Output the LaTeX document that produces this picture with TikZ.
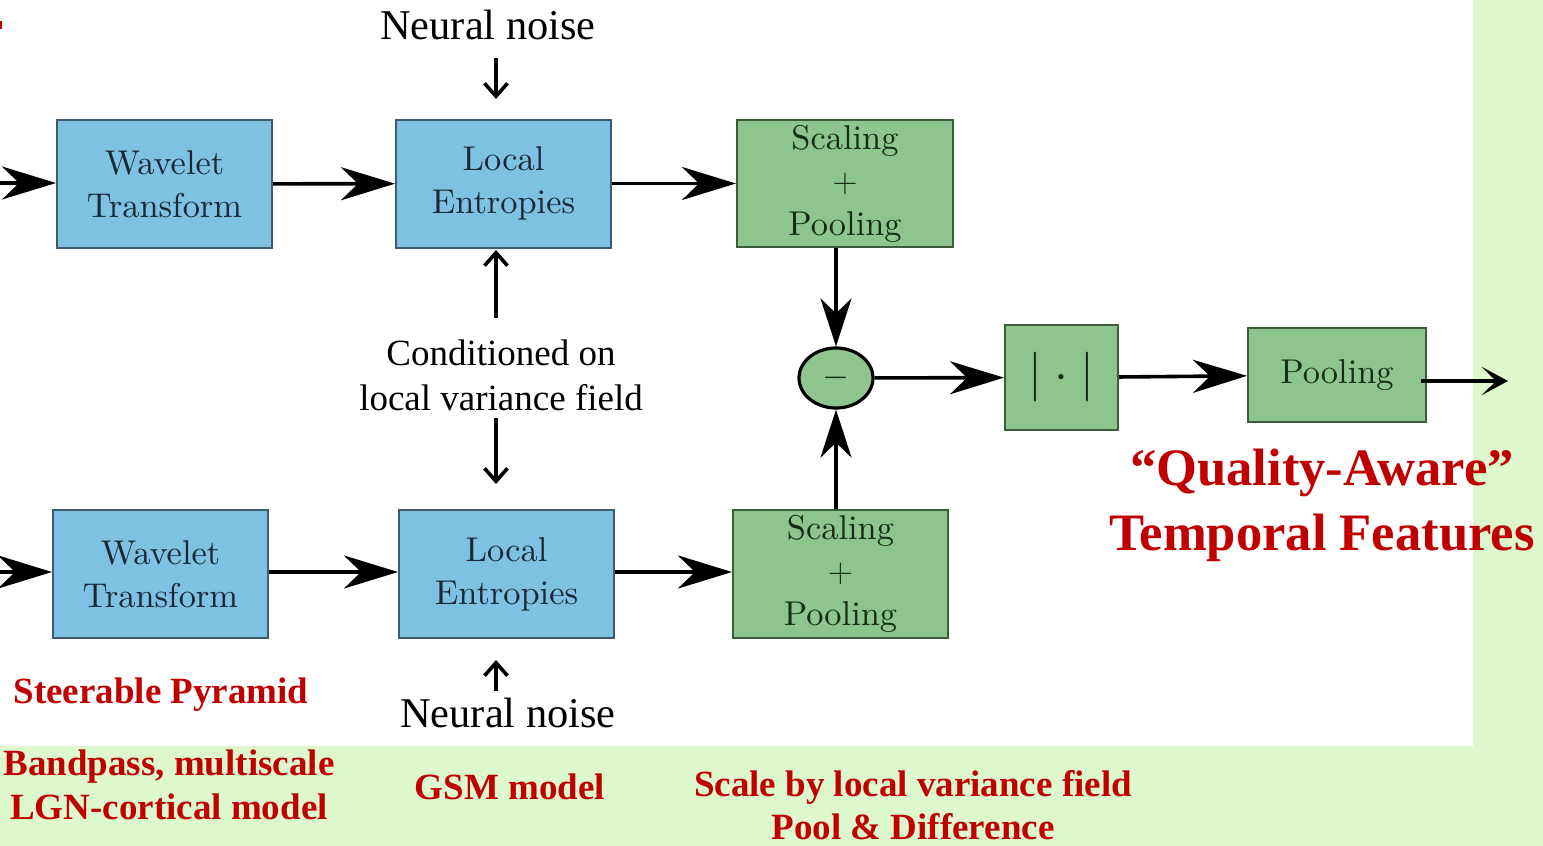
\documentclass[tikz,border=0pt]{standalone}
\usepackage{fontspec}
\newfontfamily\tnr{Liberation Serif}
\newfontfamily\lmten{lmroman10-regular.otf}
\usetikzlibrary{arrows.meta,shapes.geometric}
\definecolor{boxblue}{RGB}{126,193,226}
\definecolor{edgeblue}{RGB}{62,92,110}
\definecolor{boxgreen}{RGB}{142,196,142}
\definecolor{edgegreen}{RGB}{60,92,60}
\definecolor{bggreen}{RGB}{220,248,204}
\definecolor{labred}{RGB}{192,0,0}
\definecolor{inkblue}{RGB}{24,40,52}
\definecolor{inkgreen}{RGB}{22,44,22}
\tikzset{
  blk/.style={draw, line width=1pt, minimum width=107.5pt, minimum height=64pt,
    align=center, inner sep=0pt, font=\lmten\fontsize{17.2}{21.5}\selectfont},
  bluebox/.style={blk, fill=boxblue, draw=edgeblue, text=inkblue},
  greenbox/.style={blk, fill=boxgreen, draw=edgegreen, text=inkgreen},
  bigarrow/.style={line width=1.8pt, -{Stealth[length=27pt,width=16.5pt,inset=8.5pt]}},
  vbigarrow/.style={line width=1.8pt, -{Stealth[length=24pt,width=15.5pt,inset=7.5pt]}},
  thinarrow/.style={line width=1.8pt, -{Straight Barb[length=6.5pt,width=11.5pt,line width=1.8pt]}},
  blacklabel/.style={font=\tnr\fontsize{21.2}{26}\selectfont, align=center, inner sep=0pt},
  condlabel/.style={font=\tnr\fontsize{18.5}{22.5}\selectfont, align=center, inner sep=0pt},
  redlabel/.style={font=\tnr\bfseries\fontsize{18.5}{22}\selectfont, text=labred, align=center, inner sep=0pt},
  biglabel/.style={font=\tnr\bfseries\fontsize{26.3}{32.5}\selectfont, text=labred, align=center, inner sep=0pt}
}
\begin{document}
\begin{tikzpicture}[x=0.5pt, y=-0.5pt]
  % page background: light green frame around a white drawing area
  \useasboundingbox (0,0) rectangle (1543,846);
  \clip (0,0) rectangle (1543,846);
  \fill[bggreen] (0,0) rectangle (1543,846);
  \fill[white] (0,0) rectangle (1473,746);
  \fill[labred] (0,21) rectangle (2,29);

  % upper pathway
  \node[bluebox] (wt1) at (164.5,184) {Wavelet\\Transform};
  \node[bluebox] (le1) at (503.5,183.5) {Local\\Entropies};
  \node[greenbox, minimum width=108pt, minimum height=63.5pt] (sp1) at (845,183.5) {Scaling\\$+$\\Pooling};

  % lower pathway
  \node[bluebox] (wt2) at (160.5,574) {Wavelet\\Transform};
  \node[bluebox] (le2) at (506.5,574) {Local\\Entropies};
  \node[greenbox, minimum width=107.5pt] (sp2) at (840.5,574) {Scaling\\$+$\\Pooling};

  % difference, magnitude and pooling
  \node[ellipse, draw=black, line width=1.6pt, fill=boxgreen, minimum width=37pt,
        minimum height=30pt, inner sep=0pt, text=inkgreen,
        font=\fontsize{19}{19}\selectfont] (minus) at (836,378) {$-$};
  \node[greenbox, minimum width=56.5pt, minimum height=52.5pt,
        font=\fontsize{25.5}{25.5}\selectfont] (abs) at (1061.5,377.5)
        {$|\mkern4.5mu{\cdot}\mkern4.5mu|$};
  \node[greenbox, minimum width=89pt, minimum height=47pt] (pool) at (1337,375) {Pooling};

  % labels
  \node[blacklabel] (noise1) at (488,25) {Neural noise};
  \node[blacklabel] (noise2) at (508,713) {Neural noise};
  \node[condlabel] (cond) at (501,375) {Conditioned on\\local variance field};

  \node[redlabel] (steer) at (161,695) {Steerable Pyramid};
  \node[redlabel] (band) at (169,785) {Bandpass, multiscale\\LGN-cortical model};
  \node[redlabel] (gsm) at (510,787) {GSM model};
  \node[redlabel, font=\tnr\bfseries\fontsize{18.5}{21.5}\selectfont] (scale) at (913,805.5)
        {Scale by local variance field\\Pool \& Difference};
  \node[biglabel] (qaware) at (1322,505) {“Quality-Aware”\\Temporal Features};

  % free ends of connectors
  \coordinate (in1) at (-20,183);
  \coordinate (in2) at (-20,572);
  \coordinate (n1a) at (496,58);
  \coordinate (n1b) at (496,99);
  \coordinate (c1a) at (496,318);
  \coordinate (c1b) at (496,250);
  \coordinate (c2a) at (496,418);
  \coordinate (c2b) at (496,484);
  \coordinate (n2a) at (496,691);
  \coordinate (n2b) at (496,660);
  \coordinate (outa) at (1421,381);
  \coordinate (outb) at (1508,381);

  % data flow
  \draw[bigarrow] (in1) -- (wt1.west |- in1);
  \draw[bigarrow] (wt1) -- (le1);
  \draw[bigarrow] (le1) -- (sp1);
  \draw[bigarrow] (in2) -- (wt2.west |- in2);
  \draw[bigarrow] (wt2.east |- 0,572) -- (le2.west |- 0,572);
  \draw[bigarrow] (le2.east |- 0,572) -- (sp2.west |- 0,572);
  \draw[vbigarrow] (minus.north |- sp1.south) -- (minus.north);
  \draw[vbigarrow] (minus.south |- sp2.north) -- (minus.south);
  \draw[bigarrow] (minus) -- (abs);
  \draw[bigarrow] (abs) -- (pool);
  \draw[line width=1.8pt, -{Stealth[length=13pt,width=14pt,inset=7pt]}] (outa) -- (outb);

  % noise and conditioning inputs
  \draw[thinarrow] (n1a) -- (n1b);
  \draw[thinarrow] (c1a) -- (c1b);
  \draw[thinarrow] (c2a) -- (c2b);
  \draw[thinarrow] (n2a) -- (n2b);
\end{tikzpicture}
\end{document}
